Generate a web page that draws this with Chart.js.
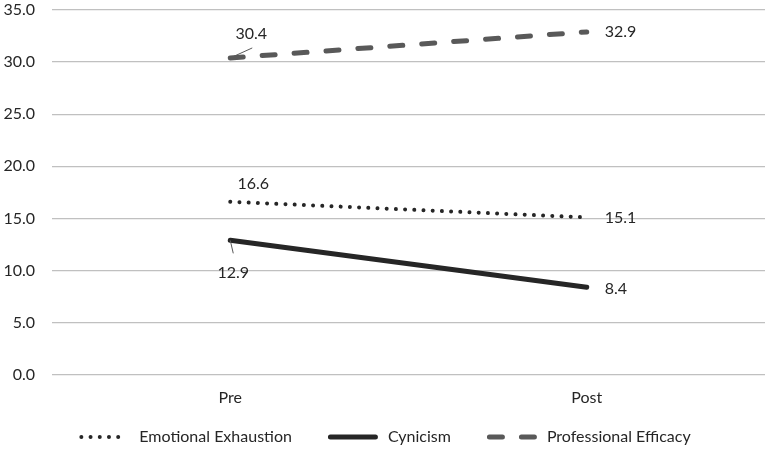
<!DOCTYPE html>
<html><head><meta charset="utf-8">
<script src="https://cdn.jsdelivr.net/npm/chart.js@4"></script>
<style>html,body{margin:0;padding:0;background:#fff;}#wrap{width:770px;height:451px;}</style>
</head><body><div id="wrap"><canvas id="c"></canvas></div>
<script>
const categories = ["Pre", "Post"];
const emotionalExhaustion = [16.6, 15.1];
const cynicism = [12.9, 8.4];
const professionalEfficacy = [30.4, 32.9];
const seriesNames = ["Emotional Exhaustion", "Cynicism", "Professional Efficacy"];
const yTicks = [0, 5, 10, 15, 20, 25, 30, 35];

const FONT = "Lato, 'Liberation Sans', sans-serif";
const TXT = '#262626';
// label placement per dataset per point: [dx, dy, align, leader end (dx,dy) or null]
const labelPlace = [
  [[23, -18, 'center', null], [18, 0, 'left', null]],
  [[3, 32, 'center', [3, 13]], [18, 2, 'left', null]],
  [[21, -24, 'center', [22, -10]], [18, 0, 'left', null]]
];
const labelPlugin = {
  id: 'dataLabels',
  afterDatasetsDraw(chart) {
    const ctx = chart.ctx;
    ctx.save();
    ctx.font = "16px " + FONT;
    ctx.fillStyle = TXT;
    ctx.textBaseline = 'middle';
    chart.data.datasets.forEach((ds, i) => {
      const meta = chart.getDatasetMeta(i);
      meta.data.forEach((pt, j) => {
        const p = labelPlace[i][j];
        ctx.textAlign = p[2];
        ctx.fillText(ds.data[j].toFixed(1), pt.x + p[0], pt.y + p[1]);
        if (p[3]) {
          ctx.beginPath();
          ctx.strokeStyle = '#595959';
          ctx.lineWidth = 1;
          ctx.moveTo(pt.x, pt.y);
          ctx.lineTo(pt.x + p[3][0], pt.y + p[3][1]);
          ctx.stroke();
        }
      });
    });
    ctx.restore();
  }
};
// legend drawn from the dataset styles, laid out centred under the chart
const legendPlugin = {
  id: 'lineLegend',
  afterDraw(chart) {
    const ctx = chart.ctx;
    const sample = 50, gap = 10, spacing = 36, yc = 437;
    ctx.save();
    ctx.font = "16px " + FONT;
    ctx.textBaseline = 'middle';
    ctx.textAlign = 'left';
    const dss = chart.data.datasets;
    const widths = dss.map(d => ctx.measureText(d.label).width);
    const total = widths.reduce((a, w) => a + w + sample + gap, 0) + spacing * (dss.length - 1);
    let x = (chart.width - total) / 2;
    dss.forEach((d, i) => {
      ctx.beginPath();
      ctx.strokeStyle = d.borderColor;
      ctx.lineWidth = d.borderWidth;
      ctx.lineCap = d.borderCapStyle || 'butt';
      ctx.setLineDash(d.borderDash || []);
      const inset = d.borderCapStyle === 'round' ? d.borderWidth / 2 : 0;
      ctx.moveTo(x + inset, yc);
      ctx.lineTo(x + sample - inset, yc);
      ctx.stroke();
      ctx.setLineDash([]);
      ctx.fillStyle = TXT;
      ctx.fillText(d.label, x + sample + gap, yc);
      x += sample + gap + widths[i] + spacing;
    });
    ctx.restore();
  }
};

new Chart(document.getElementById('c'), {
  type: 'line',
  data: {
    labels: categories,
    datasets: [
      { label: seriesNames[0], data: emotionalExhaustion, borderColor: TXT, backgroundColor: TXT,
        borderWidth: 4, borderDash: [0.01, 9.2], borderCapStyle: 'round', pointRadius: 0, fill: false },
      { label: seriesNames[1], data: cynicism, borderColor: TXT, backgroundColor: TXT,
        borderWidth: 5, borderCapStyle: 'round', pointRadius: 0, fill: false },
      { label: seriesNames[2], data: professionalEfficacy, borderColor: '#595959', backgroundColor: '#595959',
        borderWidth: 5, borderDash: [13, 19], borderCapStyle: 'round', pointRadius: 0, fill: false }
    ]
  },
  options: {
    responsive: true, maintainAspectRatio: false, animation: false,
    layout: { autoPadding: false, padding: { left: 2, right: 5, top: 1, bottom: 31 } },
    plugins: {
      tooltip: { enabled: false },
      legend: { display: false }
    },
    scales: {
      x: {
        offset: true,
        grid: { display: false, drawTicks: false },
        border: { display: false },
        ticks: { color: TXT, font: { family: FONT, size: 16 }, padding: 13 }
      },
      y: {
        min: 0, max: 35,
        afterBuildTicks(axis) { axis.ticks = yTicks.map(v => ({ value: v })); },
        afterFit(axis) { axis.width = 50; axis.paddingTop = 10; axis.paddingBottom = 0; },
        grid: { color: '#c0c0c0', lineWidth: 1.3, drawTicks: false },
        border: { display: false },
        ticks: { color: TXT, font: { family: FONT, size: 16 }, padding: 17,
          callback: v => Number(v).toFixed(1) }
      }
    }
  },
  plugins: [labelPlugin, legendPlugin]
});
</script></body></html>
